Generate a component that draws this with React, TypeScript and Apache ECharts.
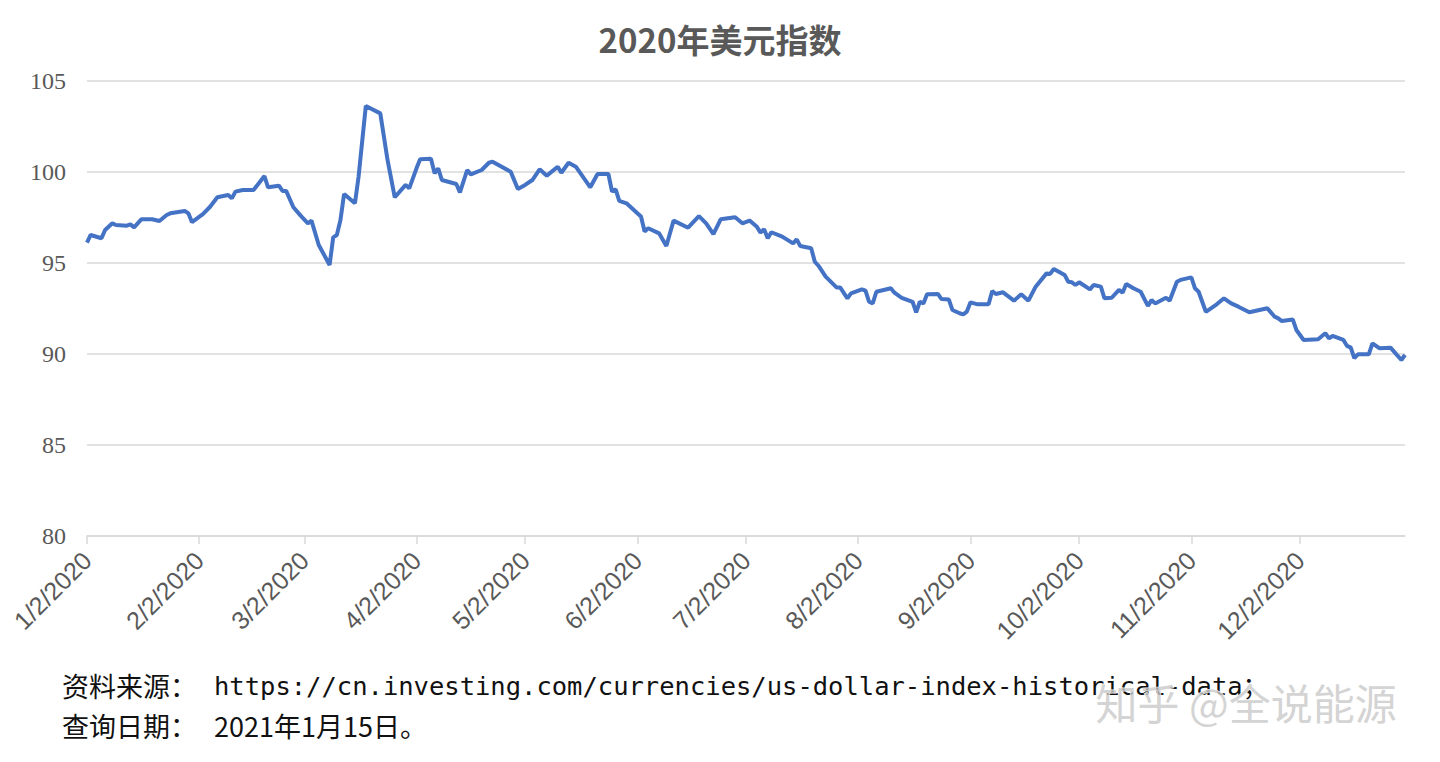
import React, { useEffect, useRef } from "react";
import * as echarts from "echarts";

const TITLE = "2020年美元指数";
const SOURCE_LABEL = "资料来源：";
const SOURCE_URL = "https://cn.investing.com/currencies/us-dollar-index-historical-data；";
const QUERY_LABEL = "查询日期：";
const QUERY_DATE = "2021年1月15日。";
const WATERMARK = "知乎 @全说能源";

const yTicks = [80, 85, 90, 95, 100, 105];
const tickDates = ["1/2", "2/2", "3/2", "4/2", "5/2", "6/2", "7/2", "8/2", "9/2", "10/2", "11/2", "12/2"];

const dates = [
  "1/2", "1/3", "1/6", "1/7", "1/9", "1/10", "1/13", "1/14", "1/15", "1/17", "1/20", "1/22", "1/24", "1/25", "1/29", "1/30", "1/31",
  "2/3", "2/5", "2/7", "2/10", "2/11", "2/12", "2/14", "2/17", "2/20", "2/21", "2/24", "2/25", "2/26", "2/28",
  "3/1", "3/3", "3/4", "3/6", "3/9", "3/10", "3/11", "3/12", "3/13", "3/16", "3/17", "3/19", "3/23", "3/25", "3/27", "3/30", "3/31",
  "4/2", "4/3", "4/6", "4/7", "4/8", "4/9", "4/13", "4/14", "4/16", "4/17", "4/20", "4/22", "4/23", "4/28", "4/30",
  "5/2", "5/4", "5/6", "5/8", "5/11", "5/12", "5/14", "5/16", "5/20", "5/22", "5/25", "5/26", "5/27", "5/28", "5/30",
  "6/2", "6/3", "6/4", "6/5", "6/8", "6/10", "6/12", "6/16", "6/19", "6/21", "6/23", "6/25", "6/29",
  "7/1", "7/3", "7/5", "7/6", "7/7", "7/8", "7/9", "7/12", "7/15", "7/16", "7/17", "7/20", "7/21", "7/22", "7/24", "7/27", "7/28", "7/30", "7/31",
  "8/3", "8/4", "8/5", "8/6", "8/7", "8/11", "8/12", "8/14", "8/17", "8/18", "8/19", "8/20", "8/21", "8/24", "8/25", "8/27", "8/28", "8/30", "8/31",
  "9/1", "9/2", "9/4", "9/7", "9/8", "9/9", "9/11", "9/14", "9/16", "9/18", "9/20", "9/23", "9/24", "9/25", "9/28", "9/29", "9/30",
  "10/1", "10/2", "10/5", "10/6", "10/8", "10/9", "10/11", "10/13", "10/14", "10/15", "10/17", "10/19", "10/21", "10/22", "10/23", "10/26", "10/27", "10/29", "10/30",
  "11/2", "11/3", "11/4", "11/6", "11/9", "11/11", "11/13", "11/15", "11/18", "11/23", "11/25", "11/26", "11/27", "11/30",
  "12/1", "12/3", "12/7", "12/9", "12/10", "12/11", "12/14", "12/15", "12/16", "12/17", "12/18", "12/21", "12/22", "12/24", "12/27", "12/30", "12/31",
];

const values = [
  96.12, 96.54, 96.36, 96.81, 97.18, 97.09, 97.05, 97.12, 96.96, 97.4, 97.4, 97.31, 97.64, 97.73, 97.86, 97.73, 97.24,
  97.68, 98.09, 98.61, 98.74, 98.55, 98.92, 99.01, 99.01, 99.78, 99.16, 99.25, 98.96, 98.96, 98.06,
  97.6, 97.18, 97.33, 95.99, 94.89, 96.41, 96.54, 97.36, 98.79, 98.28, 99.74, 103.63, 103.22, 100.66, 98.61, 99.29, 99.1,
  100.2, 100.7, 100.73, 99.93, 100.2, 99.56, 99.34, 98.88, 100.11, 99.87, 100.11, 100.51, 100.57, 100.02, 99.07,
  99.29, 99.56, 100.15, 99.8, 100.29, 99.96, 100.51, 100.29, 99.16, 99.89, 99.89, 98.92, 99.05, 98.41, 98.28,
  97.73, 97.55, 96.73, 96.91, 96.63, 95.93, 97.33, 96.94, 97.58, 97.18, 96.59, 97.4, 97.51,
  97.18, 97.33, 96.99, 96.67, 96.85, 96.36, 96.69, 96.45, 96.08, 96.3, 95.93, 95.81, 95.07, 94.85, 94.25, 93.66, 93.66, 93.06, 93.33,
  93.55, 93.48, 92.87, 92.78, 93.42, 93.61, 93.37, 93.09, 92.87, 92.29, 92.87, 92.78, 93.28, 93.3, 93.02, 93.0, 92.42, 92.24, 92.18,
  92.33, 92.84, 92.73, 92.73, 93.46, 93.3, 93.39, 92.93, 93.28, 92.93, 93.7, 94.43, 94.4, 94.67, 94.34, 93.97, 93.94,
  93.79, 93.94, 93.55, 93.79, 93.7, 93.06, 93.09, 93.52, 93.37, 93.85, 93.61, 93.42, 92.64, 92.97, 92.78, 93.09, 92.93, 93.97, 94.07,
  94.21, 93.61, 93.42, 92.32, 92.73, 93.06, 92.78, 92.6, 92.29, 92.51, 92.05, 91.96, 91.81, 91.9,
  91.32, 90.77, 90.81, 91.14, 90.86, 90.99, 90.77, 90.44, 90.37, 89.77, 89.98, 89.98, 90.59, 90.31, 90.35, 89.67, 89.95,
];

const YEAR = 2020;
const toTime = (md: string) => {
  const [m, d] = md.split("/").map(Number);
  return new Date(YEAR, m - 1, d).getTime();
};

export default function App() {
  const ref = useRef<HTMLDivElement>(null);
  useEffect(() => {
    if (!ref.current) return;
    const chart = echarts.init(ref.current, undefined, { renderer: "svg" });
    const seriesData = dates.map((d, i) => [toTime(d), values[i]]);
    const tickValues = tickDates.map(toTime);
    const grey = "#595959";
    chart.setOption({
      animation: false,
      backgroundColor: "#ffffff",
      title: {
        text: TITLE,
        left: "center",
        top: 17,
        textStyle: { fontSize: 33, fontWeight: "bold", color: grey, fontFamily: "Noto Sans CJK SC" },
      },
      grid: { left: 87, right: 35, top: 81, bottom: 226, containLabel: false },
      xAxis: {
        type: "value",
        min: toTime("1/2"),
        max: toTime("12/31"),
        splitLine: { show: false },
        axisLine: { show: true, lineStyle: { color: "#d9d9d9", width: 1.5 } },
        axisTick: { show: true, customValues: tickValues, length: 8, lineStyle: { color: "#d9d9d9", width: 1.5 } },
        axisLabel: {
          customValues: tickValues,
          rotate: 45,
          margin: 20,
          fontSize: 25,
          color: grey,
          fontFamily: "Liberation Sans",
          formatter: (val: number) => {
            const d = new Date(val);
            return `${d.getMonth() + 1}/${d.getDate()}/${d.getFullYear()}`;
          },
        },
      },
      yAxis: {
        type: "value",
        min: yTicks[0],
        max: yTicks[yTicks.length - 1],
        interval: 5,
        axisLine: { show: false },
        axisTick: { show: false },
        splitLine: { lineStyle: { color: "#d9d9d9", width: 1.5 } },
        axisLabel: { fontSize: 24, color: grey, fontFamily: "Liberation Serif", margin: 21 },
      },
      series: [
        {
          type: "line",
          data: seriesData,
          showSymbol: false,
          symbol: "none",
          lineStyle: { color: "#4472C4", width: 4 },
          itemStyle: { color: "#4472C4" },
        },
      ],
      graphic: [
        {
          type: "text",
          left: 62,
          top: 672,
          style: {
            text: `{c|${SOURCE_LABEL}}{m|${SOURCE_URL}}`,
            rich: {
              c: { fontSize: 27, lineHeight: 32, width: 152, fontFamily: "Noto Sans CJK SC", fill: "#111" },
              m: { fontSize: 25.5, lineHeight: 32, fontFamily: "DejaVu Sans Mono, Noto Sans CJK SC", fill: "#111" },
            },
          },
        },
        {
          type: "text",
          left: 62,
          top: 712,
          style: {
            text: `{c|${QUERY_LABEL}}{m|${QUERY_DATE}}`,
            rich: {
              c: { fontSize: 27, lineHeight: 32, width: 152, fontFamily: "Noto Sans CJK SC", fill: "#111" },
              m: { fontSize: 27, lineHeight: 32, fontFamily: "Noto Sans CJK SC", fill: "#111" },
            },
          },
        },
        {
          type: "text",
          left: 1095,
          top: 680,
          z: 100,
          style: {
            text: WATERMARK,
            fontSize: 42,
            fontFamily: "Noto Sans CJK SC",
            fill: "rgba(200,200,200,0.8)",
            stroke: "rgba(255,255,255,0.9)",
            lineWidth: 1,
          },
        },
      ],
    });
    return () => chart.dispose();
  }, []);
  return <div ref={ref} style={{ width: 1440, height: 762, margin: -8 }} />;
}
